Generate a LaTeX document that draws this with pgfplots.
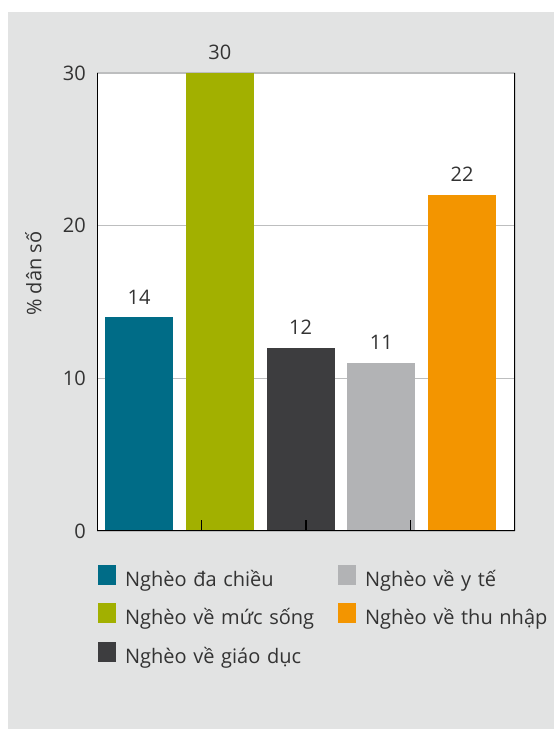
\documentclass[border=0pt]{standalone}
\usepackage{fontspec}
\setmainfont{Open Sans}
\usepackage{pgfplots}
\pgfplotsset{compat=1.18}
\definecolor{bggray}{HTML}{E2E3E3}
\definecolor{gridgray}{HTML}{BDBEBF}
\definecolor{cteal}{HTML}{006C87}
\definecolor{colive}{HTML}{A2B000}
\definecolor{cdark}{HTML}{3D3D3F}
\definecolor{clight}{HTML}{B2B3B5}
\definecolor{corange}{HTML}{F39500}
\definecolor{txt}{HTML}{333333}
\pgfplotsset{sqlegend/.style={legend image code/.code={\fill[##1,draw=none] (0bp,-4bp) rectangle (18bp,16bp);}}}
\begin{document}
\begin{tikzpicture}[x=1bp,y=1bp,font=\fontsize{20bp}{24bp}\selectfont]
\fill[white] (0,0) rectangle (554,729);
\fill[bggray] (8,0) rectangle (554,717);
\begin{axis}[
  at={(97bp,198bp)}, anchor=south west,
  scale only axis, width=418bp, height=458bp,
  xmin=-0.52, xmax=4.656, ymin=0, ymax=30,
  axis background/.style={fill=white},
  axis line style={draw=none},
  ytick={0,10,20,30}, ymajorgrids,
  grid style={color=gridgray, line width=1.5bp},
  ytick style={draw=none},
  yticklabel style={anchor=east, inner sep=0pt, xshift=-11bp, text=txt},
  /pgf/number format/assume math mode=true,
  xtick=\empty,
  ylabel={\% dân số},
  ylabel style={at={(axis description cs:-0.152,0.562)}, anchor=center, text=txt},
  ybar, bar width=0.842, bar shift=0pt,
  nodes near coords,
  nodes near coords style={anchor=south, inner sep=0pt, yshift=13bp, text=txt},
  legend columns=2,
  legend style={at={(axis description cs:0.0024,-0.0740)}, anchor=north west,
    draw=none, fill=none, inner sep=0pt, outer sep=0pt,
    column sep=9bp, row sep=13bp, nodes={inner sep=0pt, text height=15bp, text depth=4bp, text width=204bp, align=left}},
  legend cell align=left,
  legend style={text=txt},
]
\addplot[fill=cteal, draw=none, sqlegend] coordinates {(0,14)};
\addlegendentry{Nghèo đa chiều}
\addplot[fill=clight, draw=none, sqlegend] coordinates {(3,11)};
\addlegendentry{Nghèo về y tế}
\addplot[fill=colive, draw=none, sqlegend] coordinates {(1,30)};
\addlegendentry{Nghèo về mức sống}
\addplot[fill=corange, draw=none, sqlegend] coordinates {(4,22)};
\addlegendentry{Nghèo về thu nhập}
\addplot[fill=cdark, draw=none, sqlegend] coordinates {(2,12)};
\addlegendentry{Nghèo về giáo dục}
\end{axis}
\begin{axis}[
  at={(97bp,198bp)}, anchor=south west,
  scale only axis, width=418bp, height=458bp,
  xmin=-0.52, xmax=4.656, ymin=0, ymax=30,
  axis line style={draw=none},
  ytick=\empty, xticklabels={},
  xtick={0.774,2.068,3.362},
  tick align=inside, xtick pos=bottom,
  major tick length=11bp,
  tick style={black, line width=1.5bp},
]
\draw[black, line width=2bp] (rel axis cs:0,1) -- (rel axis cs:0,0) -- (rel axis cs:1,0) -- (rel axis cs:1,1);
\end{axis}
\pgfresetboundingbox
\path[use as bounding box] (0,0) rectangle (554,729);
\end{tikzpicture}
\end{document}
